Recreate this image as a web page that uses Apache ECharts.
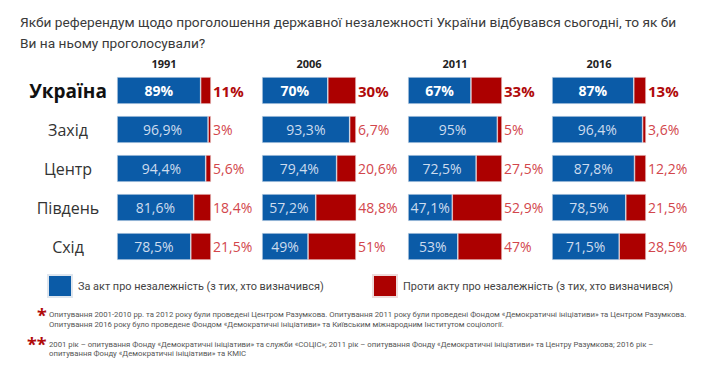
<!DOCTYPE html>
<html>
<head>
<meta charset="utf-8">
<script src="https://cdn.jsdelivr.net/npm/echarts@6/dist/echarts.min.js"></script>
<style>html,body{margin:0;padding:0;background:#fff;}#c{width:724px;height:370px;}</style>
</head>
<body>
<div id="c"></div>
<script>
const years = ['1991', '2006', '2011', '2016'];
const regions = ['Україна', 'Захід', 'Центр', 'Південь', 'Схід'];
const forValues1991 = [89, 96.9, 94.4, 81.6, 78.5];
const forValues2006 = [70, 93.3, 79.4, 57.2, 49];
const forValues2011 = [67, 95, 72.5, 47.1, 53];
const forValues2016 = [87, 96.4, 87.8, 78.5, 71.5];
const againstValues1991 = [11, 3, 5.6, 18.4, 21.5];
const againstValues2006 = [30, 6.7, 20.6, 48.8, 51];
const againstValues2011 = [33, 5, 27.5, 52.9, 47];
const againstValues2016 = [13, 3.6, 12.2, 21.5, 28.5];
const forName = 'За акт про незалежність (з тих, хто визначився)';
const againstName = 'Проти акту про незалежність (з тих, хто визначився)';
const titleText = 'Якби референдум щодо проголошення державної незалежності України відбувався сьогодні, то як би\nВи на ньому проголосували?';
const note1 = 'Опитування 2001-2010 рр. та 2012 року були проведені Центром Разумкова. Опитування 2011 року були проведені Фондом «Демократичні ініціативи» та Центром Разумкова.\nОпитування 2016 року було проведене Фондом «Демократичні ініціативи» та Київським міжнародним Інститутом соціології.';
const note2 = '2001 рік – опитування Фонду «Демократичні ініціативи» та служби «СОЦІС»; 2011 рік – опитування Фонду «Демократичні ініціативи» та Центру Разумкова; 2016 рік –\nопитування Фонду «Демократичні ініціативи» та КМІС';

const forAll = [forValues1991, forValues2006, forValues2011, forValues2016];
const againstAll = [againstValues1991, againstValues2006, againstValues2011, againstValues2016];

const BLUE = '#0b5ba7';
const RED = '#ac0000';
const NARROW = 'Roboto, "Open Sans", sans-serif';
const SANS = '"Open Sans", "Noto Sans", sans-serif';
const fmt = v => String(v).replace('.', ',') + '%';

const gridLefts = [117, 262, 408, 552];
const gridW = 94;

const grids = [], xAxes = [], yAxes = [], series = [], titles = [];
titles.push({
  text: titleText, left: 20, top: 11, padding: 0,
  textStyle: {fontFamily: NARROW, fontSize: 13.7, fontWeight: 'normal', color: '#3a3a3a', lineHeight: 21}
});
years.forEach((y, i) => {
  grids.push({left: gridLefts[i], width: gridW, top: 71, height: 195});
  xAxes.push({type: 'value', gridIndex: i, min: 0, max: 100, show: false});
  yAxes.push({
    type: 'category', gridIndex: i, data: regions, inverse: true,
    axisLine: {show: false}, axisTick: {show: false}, splitLine: {show: false},
    axisLabel: i === 0 ? {
      show: true, margin: 49, align: 'center',
      formatter: v => v === 'Україна' ? '{b|' + v + '}' : '{n|' + v + '}',
      rich: {
        b: {fontFamily: SANS, fontSize: 19, fontWeight: 'bold', color: '#111'},
        n: {fontFamily: SANS, fontSize: 16, color: '#333'}
      }
    } : {show: false}
  });
  titles.push({
    text: y, left: gridLefts[i] + gridW / 2, top: 58, textAlign: 'center', padding: 0,
    textStyle: {fontFamily: SANS, fontSize: 11, fontWeight: 'bold', color: '#222'}
  });
  series.push({
    name: forName, type: 'bar', stack: 's' + i, xAxisIndex: i, yAxisIndex: i,
    barWidth: 27, itemStyle: {color: BLUE, borderColor: '#dfe6ee', borderWidth: 0.6},
    data: forAll[i].map((v, k) => ({
      value: v,
      label: k === 0
        ? {fontSize: 14, fontWeight: 'bold', color: '#ffffff'}
        : {fontSize: 14, fontWeight: 'normal', color: '#cddcee'}
    })),
    label: {show: true, position: 'inside', fontFamily: SANS, formatter: p => fmt(p.value)}
  });
  series.push({
    name: againstName, type: 'bar', stack: 's' + i, xAxisIndex: i, yAxisIndex: i,
    barWidth: 27, itemStyle: {color: RED, borderColor: '#eedcdc', borderWidth: 0.6},
    data: againstAll[i].map((v, k) => ({
      value: v,
      label: k === 0
        ? {fontSize: 15, fontWeight: 'bold', color: '#b00a0a'}
        : {fontSize: 14, fontWeight: 'normal', color: '#d2464c'}
    })),
    label: {show: true, position: 'right', distance: 2, fontFamily: SANS, formatter: p => fmt(p.value)}
  });
});

titles.push({
  text: '{s|*}', left: 37, top: 306, padding: 0,
  textStyle: {rich: {s: {fontSize: 18, fontWeight: 'bold', color: '#b00a0a', fontFamily: SANS}}}
});
titles.push({
  text: note1, left: 49, top: 310, padding: 0,
  textStyle: {fontFamily: NARROW, fontSize: 7.75, fontWeight: 'normal', color: '#555', lineHeight: 9.5}
});
titles.push({
  text: '{s|**}', left: 27, top: 335, padding: 0,
  textStyle: {rich: {s: {fontSize: 18, fontWeight: 'bold', color: '#b00a0a', fontFamily: SANS}}}
});
titles.push({
  text: note2, left: 49, top: 339.5, padding: 0,
  textStyle: {fontFamily: NARROW, fontSize: 7.75, fontWeight: 'normal', color: '#555', lineHeight: 9.5}
});

const chart = echarts.init(document.getElementById('c'), null, {renderer: 'svg'});
chart.setOption({
  animation: false,
  backgroundColor: '#ffffff',
  title: titles,
  legend: [
    {data: [forName], left: 47, top: 274, padding: 0, icon: 'rect', itemWidth: 24, itemHeight: 22, itemGap: 4,
     textStyle: {fontFamily: NARROW, fontSize: 10.9, color: '#444', padding: [0, 0, 0, 1]}},
    {data: [againstName], left: 372, top: 274, padding: 0, icon: 'rect', itemWidth: 24, itemHeight: 22, itemGap: 4,
     textStyle: {fontFamily: NARROW, fontSize: 10.9, color: '#444', padding: [0, 0, 0, 1]}}
  ],
  grid: grids, xAxis: xAxes, yAxis: yAxes, series: series
});
</script>
</body>
</html>
